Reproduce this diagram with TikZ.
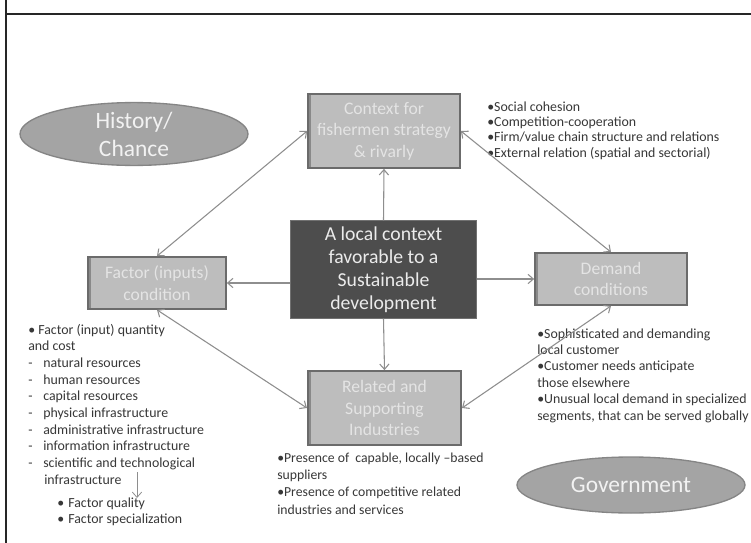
\documentclass[tikz,border=0pt]{standalone}
\usepackage{fontspec}
\setmainfont{Carlito}
\usetikzlibrary{shapes.geometric,arrows.meta}
\definecolor{boxfill}{HTML}{BDBDBD}
\definecolor{boxedge}{HTML}{6B6B6B}
\definecolor{boxtext}{HTML}{E4E4E4}
\definecolor{cenfill}{HTML}{4D4D4D}
\definecolor{ellfill}{HTML}{A4A4A4}
\definecolor{elledge}{HTML}{858585}
\definecolor{arrowgray}{HTML}{8E8E8E}
\definecolor{bodytext}{HTML}{383838}
\tikzset{
  x=0.75pt, y=-0.75pt,
  factorbox/.style={rectangle, fill=boxfill, draw=boxedge, line width=1.3pt,
    text=boxtext, align=center, inner sep=0pt,
    font=\fontsize{13.2pt}{16.2pt}\selectfont,
    path picture={\fill[boxedge!80] (path picture bounding box.north west) rectangle ([xshift=2.5pt]path picture bounding box.south west);}},
  centrebox/.style={rectangle, fill=cenfill, draw=cenfill!80!white, line width=0.8pt,
    text=white!92!black, align=center, inner sep=0pt,
    font=\fontsize{14.8pt}{17.3pt}\selectfont},
  oval/.style={ellipse, fill=ellfill, draw=elledge, line width=1pt,
    text=white!95!black, align=center, inner sep=0pt,
    font=\fontsize{17.6pt}{21pt}\selectfont},
  bullets/.style={anchor=base west, align=left, inner sep=0pt, text=bodytext,
    font=\fontsize{10.4pt}{12.5pt}\selectfont},
  link/.style={draw=arrowgray, line width=0.8pt, {Straight Barb[length=4pt,width=7pt]}-{Straight Barb[length=4pt,width=7pt]}},
  onelink/.style={draw=arrowgray, line width=0.8pt, -{Straight Barb[length=4pt,width=7pt]}},
}
\newcommand{\dashitem}[1]{\makebox[11.25pt][l]{-}#1}
\begin{document}
\begin{tikzpicture}
\useasboundingbox (0,0) rectangle (751,543);
\fill[white] (0,0) rectangle (751,543);
% frame
\coordinate (ftopl) at (6,14);
\coordinate (ftopr) at (751,14);
\coordinate (fleftt) at (6,0);
\coordinate (fleftb) at (6,543);
\draw[line width=1.2pt, black!85] (ftopl) -- (ftopr);
\draw[line width=0.9pt, black!85] (fleftt) -- (fleftb);

% boxes
\node[factorbox, minimum width=114pt, minimum height=55.5pt] (ctx) at (384,131) {Context for\\fishermen strategy\\\& rivarly};
\node[centrebox, minimum width=140pt, minimum height=73pt] (cen) at (383.5,269.5) {A local context\\favorable to a\\Sustainable\\development};
\node[factorbox, minimum width=103.5pt, minimum height=39pt] (fac) at (157,283) {Factor (inputs)\\condition};
\node[factorbox, minimum width=114pt, minimum height=39pt] (dem) at (611,279) {Demand\\conditions};
\node[factorbox, minimum width=115pt, minimum height=55.5pt] (rel) at (384.5,408) {Related and\\Supporting\\Industries};

% ellipses
\node[oval, minimum width=171pt, minimum height=42pt] (hist) at (134,134) {History/\\Chance};
\node[oval, minimum width=171pt, minimum height=42pt] (gov) at (631,485) {Government};

% bullet texts (anchored at the baseline of their last line)
\node[bullets, font=\fontsize{10.4pt}{11.3pt}\selectfont] (ctxlist) at (487,157)
  {\textbullet Social cohesion\\\textbullet Competition-cooperation\\\textbullet Firm/value chain structure and relations\\\textbullet External relation (spatial and sectorial)};
\node[bullets, font=\fontsize{10.4pt}{12.3pt}\selectfont] (demlist) at (537,420)
  {\textbullet Sophisticated and demanding\\local customer\\\textbullet Customer needs anticipate\\those elsewhere\\\textbullet Unusual local demand in specialized\\segments, that can be served globally};
\node[bullets, font=\fontsize{10.3pt}{12.8pt}\selectfont] (rellist) at (277,514)
  {\textbullet Presence of\ \ capable, locally --based\\suppliers\\\textbullet Presence of competitive related\\industries and services};
\node[bullets] (faclist) at (28,484)
  {\textbullet{} Factor (input) quantity\\and cost\\\dashitem{natural resources}\\\dashitem{human resources}\\\dashitem{capital resources}\\\dashitem{physical infrastructure}\\\dashitem{administrative infrastructure}\\\dashitem{information infrastructure}\\\dashitem{scientific and technological}\\\hspace*{12pt}infrastructure};
\node[bullets, font=\fontsize{10.4pt}{12pt}\selectfont] (quallist) at (57,523)
  {\makebox[8.25pt][l]{\textbullet}Factor quality\\\makebox[8.25pt][l]{\textbullet}Factor specialization};

% connectors
\draw[link] (ctx.west) -- (fac.north);
\draw[link] (ctx.east) -- (dem.north);
\draw[link] (fac.south) -- (rel.west);
\draw[link] (rel.east) -- (dem.south);
\draw[onelink] (cen.north) -- (ctx.south);
\draw[onelink] (cen.west |- fac.east) -- (fac.east);
\draw[onelink] (cen.east |- dem.west) -- (dem.west);
\draw[onelink] (cen.south) -- (rel.north);
\coordinate (qa) at (137,472);
\coordinate (qb) at (137,498);
\draw[onelink, line width=0.6pt] (qa) -- (qb);
\end{tikzpicture}
\end{document}
